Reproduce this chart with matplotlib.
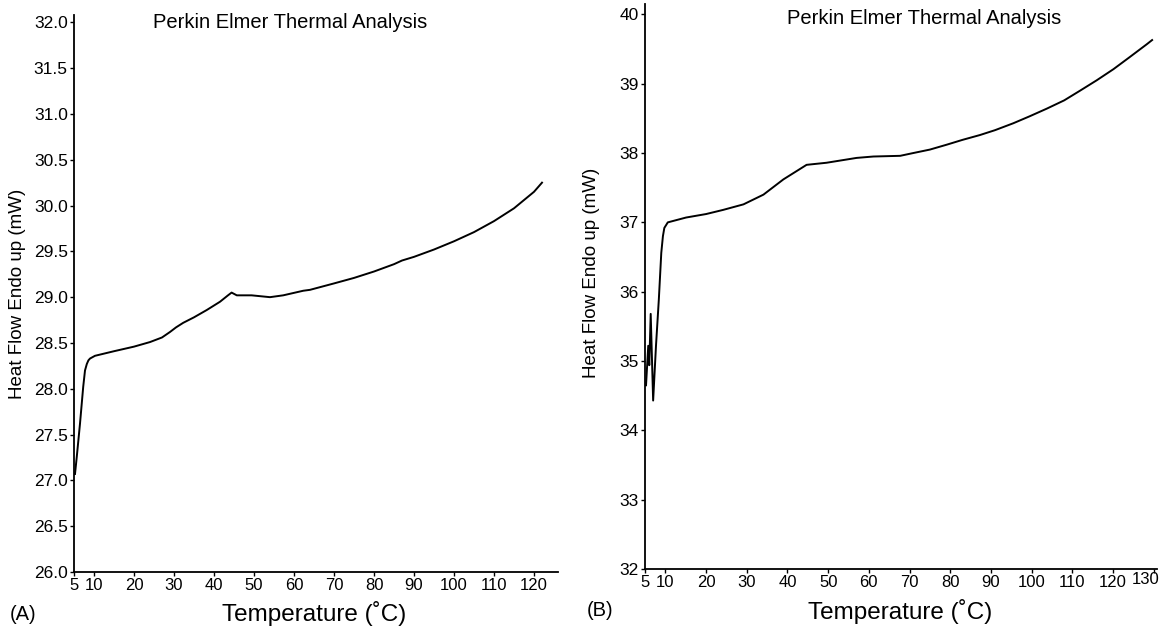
import matplotlib
matplotlib.use("Agg")
import matplotlib.pyplot as plt
from matplotlib.transforms import ScaledTranslation

plt.rcParams['font.family'] = ['Liberation Sans', 'DejaVu Sans']

# ---- Data (A) ----
temp_a = [5.25, 5.7, 6.5, 7.3, 7.75, 8.2, 8.6, 9.0, 10.25, 15, 20, 24, 27, 29, 30.5, 32.3, 35,
          38.2, 41.5, 43.5, 44.4, 45.7, 49.4, 54, 57.3, 62.3, 64, 70, 75, 80, 85, 87,
          90, 95, 100, 105, 110, 115, 120, 122]
heat_a = [27.07, 27.26, 27.62, 28.02, 28.2, 28.27, 28.31, 28.33, 28.36, 28.41, 28.46, 28.51,
          28.56, 28.62, 28.67, 28.72, 28.78, 28.86, 28.95, 29.02, 29.05, 29.02, 29.02, 29.0,
          29.02, 29.07, 29.08, 29.15, 29.21, 29.28, 29.36, 29.4, 29.44, 29.52, 29.61,
          29.71, 29.83, 29.97, 30.15, 30.25]

# ---- Data (B) ----
temp_b = [5.25, 5.8, 6.05, 6.4, 7.0, 7.7, 8.4, 9.0, 9.4, 9.75, 10.6, 15.1, 20, 24.2, 29.2,
          34.1, 39, 44.7, 49.6, 57, 61.1, 67.7, 70.9, 75, 79.1, 83, 87.3, 91, 95.5, 99.5,
          103.7, 108, 111.9, 116, 120.1, 124, 128.3, 129.6]
heat_b = [34.65, 35.22, 34.94, 35.68, 34.43, 35.22, 35.89, 36.56, 36.8, 36.92, 37.0, 37.07,
          37.12, 37.18, 37.26, 37.4, 37.62, 37.83, 37.86, 37.93, 37.95, 37.96, 38.0, 38.05,
          38.12, 38.19, 38.26, 38.33, 38.43, 38.53, 38.64, 38.76, 38.9, 39.05, 39.21,
          39.38, 39.57, 39.63]

xticks_a = [5, 10, 20, 30, 40, 50, 60, 70, 80, 90, 100, 110, 120]
yticks_a = [26.0, 26.5, 27.0, 27.5, 28.0, 28.5, 29.0, 29.5, 30.0, 30.5, 31.0, 31.5, 32.0]
xticks_b = [5, 10, 20, 30, 40, 50, 60, 70, 80, 90, 100, 110, 120, 130]
yticks_b = [32, 33, 34, 35, 36, 37, 38, 39, 40]

title_text = "Perkin Elmer Thermal Analysis"
ylabel_text = "Heat Flow Endo up (mW)"
xlabel_text = "Temperature (\u02daC)"

W, H = 1168, 631
fig = plt.figure(figsize=(W / 100, H / 100), dpi=100)


def fx(px):
    return px / W


def fy(py):
    return 1 - py / H


def style(ax):
    for s in ['top', 'right']:
        ax.spines[s].set_visible(False)
    for s in ['left', 'bottom']:
        ax.spines[s].set_linewidth(1.3)
    ax.tick_params(direction='out', length=3, width=1, pad=1.5)
    ax.tick_params(axis='x', labelsize=12)
    ax.tick_params(axis='y', labelsize=12.5)


# Panel A
axA = fig.add_axes([fx(74), fy(572), fx(558) - fx(74), fy(15) - fy(572)])
axA.plot(temp_a, heat_a, color='black', lw=1.4)
axA.set_xlim(5, 126)
axA.set_ylim(26.0, 32.08)
axA.set_xticks(xticks_a)
axA.set_yticks(yticks_a)
axA.set_yticklabels([f"{v:.1f}" for v in yticks_a])
style(axA)

# Panel B
axB = fig.add_axes([fx(645), fy(569), fx(1157) - fx(645), fy(4) - fy(569)])
axB.plot(temp_b, heat_b, color='black', lw=1.4)
axB.set_xlim(5, 130.8)
axB.set_ylim(32, 40.15)
axB.set_xticks(xticks_b)
axB.set_yticks(yticks_b)
style(axB)
lbl130 = axB.get_xticklabels()[-1]
lbl130.set_transform(lbl130.get_transform() + ScaledTranslation(-0.08, 0.03, fig.dpi_scale_trans))

# Texts
fig.text(fx(290), fy(22), title_text, ha='center', va='center', fontsize=14.5)
fig.text(fx(924), fy(18), title_text, ha='center', va='center', fontsize=14.5)
fig.text(fx(18), fy(294), ylabel_text, ha='center', va='center', rotation=90, fontsize=13.5)
fig.text(fx(592), fy(273), ylabel_text, ha='center', va='center', rotation=90, fontsize=13.5)
fig.text(fx(314), fy(613), xlabel_text, ha='center', va='center', fontsize=17.5)
fig.text(fx(900), fy(611), xlabel_text, ha='center', va='center', fontsize=17.5)
fig.text(fx(23), fy(614), "(A)", ha='center', va='center', fontsize=14.5)
fig.text(fx(600), fy(611), "(B)", ha='center', va='center', fontsize=14.5)

fig.savefig("out.png", dpi=100)
